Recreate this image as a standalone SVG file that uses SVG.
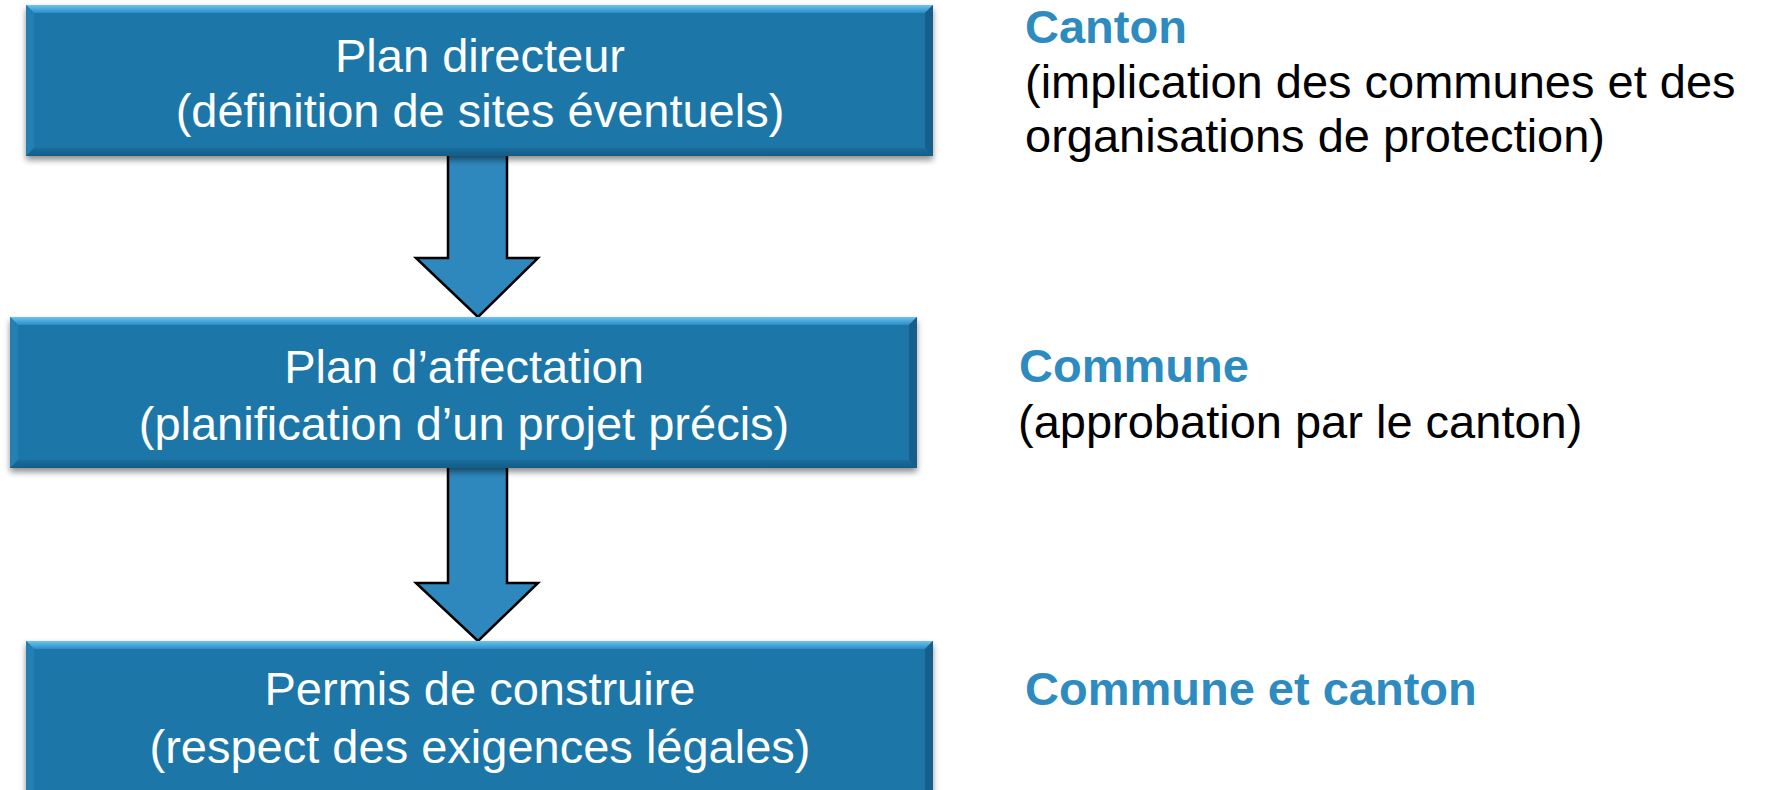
<svg xmlns="http://www.w3.org/2000/svg" width="1766" height="790" viewBox="0 0 1766 790">
  <defs>
    <filter id="shadow" x="-5%" y="-10%" width="110%" height="130%">
      <feGaussianBlur in="SourceAlpha" stdDeviation="3"/>
      <feOffset dx="0" dy="4" result="b"/>
      <feComponentTransfer><feFuncA type="linear" slope="0.45"/></feComponentTransfer>
      <feMerge><feMergeNode/><feMergeNode in="SourceGraphic"/></feMerge>
    </filter>
    <linearGradient id="topBevel" x1="0" y1="0" x2="0" y2="1">
      <stop offset="0" stop-color="#6CC3F2"/>
      <stop offset="1" stop-color="#2B8CC4"/>
    </linearGradient>
    <linearGradient id="botBevel" x1="0" y1="0" x2="0" y2="1">
      <stop offset="0" stop-color="#1A6E9C"/>
      <stop offset="1" stop-color="#155C85"/>
    </linearGradient>
  </defs>
  <style>
    .face { fill: #1B77A8; }
    .top { fill: url(#topBevel); }
    .left { fill: #2280B4; }
    .right { fill: #155F8A; }
    .bottom { fill: url(#botBevel); }
    .boxtext { font-family: "Liberation Sans", Arial, sans-serif; font-size: 47px; fill: #FFFFFF; text-anchor: middle; }
    .head { font-family: "Liberation Sans", Arial, sans-serif; font-size: 47px; font-weight: bold; fill: #2E8BC0; }
    .note { font-family: "Liberation Sans", Arial, sans-serif; font-size: 47px; fill: #000000; }
    .arrow { fill: #2E88BD; stroke: #000000; stroke-width: 2.5; stroke-linejoin: miter; }
  </style>
  <rect x="0" y="0" width="1766" height="790" fill="#FFFFFF"/>

  <g id="connectors">
    <polygon class="arrow" points="448,150 507,150 507,258 538,258 478,317 416,258 448,258"/>
    <polygon class="arrow" points="448,462 507,462 507,583 538,583 478,641 416,583 448,583"/>
  </g>

  <g id="node-plan-directeur">
    <g filter="url(#shadow)">
      <rect class="face" x="26" y="5" width="907" height="151"/>
      <polygon class="top" points="26,5 933,5 925,13 34,13"/>
      <polygon class="left" points="26,5 34,13 34,148 26,156"/>
      <polygon class="right" points="933,5 933,156 925,148 925,13"/>
      <polygon class="bottom" points="26,156 34,148 925,148 933,156"/>
    </g>
    <text class="boxtext" x="480" y="72">Plan directeur</text>
    <text class="boxtext" x="480" y="127">(définition de sites éventuels)</text>
  </g>

  <g id="node-plan-affectation">
    <g filter="url(#shadow)">
      <rect class="face" x="10" y="317" width="907" height="151"/>
      <polygon class="top" points="10,317 917,317 909,325 18,325"/>
      <polygon class="left" points="10,317 18,325 18,460 10,468"/>
      <polygon class="right" points="917,317 917,468 909,460 909,325"/>
      <polygon class="bottom" points="10,468 18,460 909,460 917,468"/>
    </g>
    <text class="boxtext" x="464" y="383">Plan d’affectation</text>
    <text class="boxtext" x="464" y="440">(planification d’un projet précis)</text>
  </g>

  <g id="node-permis">
    <g filter="url(#shadow)">
      <rect class="face" x="26" y="641" width="907" height="160"/>
      <polygon class="top" points="26,641 933,641 925,649 34,649"/>
      <polygon class="left" points="26,641 34,649 34,801 26,801"/>
      <polygon class="right" points="933,641 933,801 925,801 925,649"/>
    </g>
    <text class="boxtext" x="480" y="705">Permis de construire</text>
    <text class="boxtext" x="480" y="763">(respect des exigences légales)</text>
  </g>

  <g id="label-canton">
    <text class="head" x="1025" y="43">Canton</text>
    <text class="note" x="1025" y="98">(implication des communes et des</text>
    <text class="note" x="1025" y="152">organisations de protection)</text>
  </g>

  <g id="label-commune">
    <text class="head" x="1019" y="382">Commune</text>
    <text class="note" x="1018" y="438">(approbation par le canton)</text>
  </g>

  <g id="label-commune-canton">
    <text class="head" x="1025" y="705">Commune et canton</text>
  </g>
</svg>
